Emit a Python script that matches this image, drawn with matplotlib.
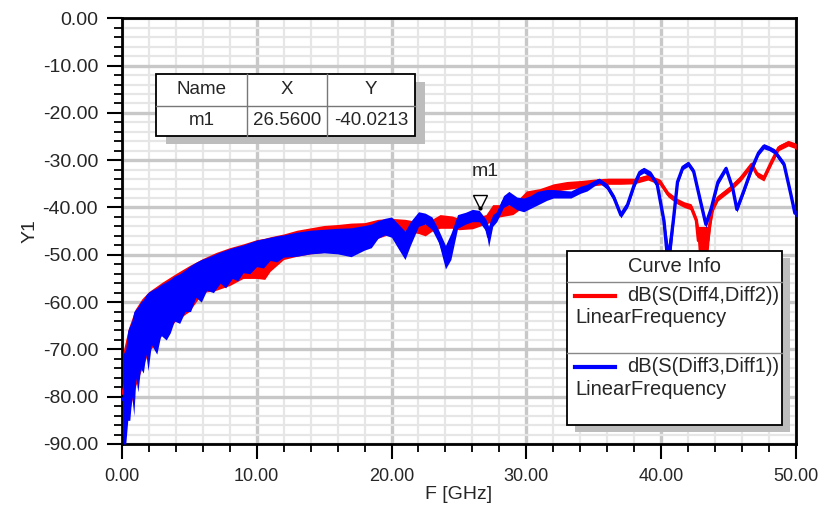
import numpy as np
import matplotlib
matplotlib.use("Agg")
import matplotlib.pyplot as plt
from matplotlib.ticker import MultipleLocator, FormatStrFormatter
from matplotlib.patches import Rectangle
from matplotlib.lines import Line2D
from matplotlib.transforms import offset_copy

plt.rcParams['font.family'] = ['Liberation Sans', 'DejaVu Sans']
plt.rcParams['axes.unicode_minus'] = False

# dB(S(Diff3,Diff1)) - frequency [GHz], lower / upper edge of the noisy trace [dB]
blue_f = [0.1, 0.3, 0.45, 0.6, 0.75, 0.9, 1.05, 1.2, 1.4, 1.6, 1.8, 1.95, 2.2, 2.6, 2.9,
          3.3, 3.6, 3.9, 4.3, 4.7, 5.1, 5.5, 5.9, 6.3, 6.8, 7.3, 7.7, 8.2, 8.6, 9.0,
          9.5, 10.0, 10.5, 11.0, 11.5, 12.0, 13.0, 14.0, 15.0, 16.0, 17.0, 18.0,
          18.5, 19.0, 19.5, 20.0, 20.5, 21.0, 21.4, 22.0, 22.5, 23.0, 23.5, 24.0,
          24.4, 24.9, 25.5, 26.0, 26.5, 27.0, 27.2, 27.5, 27.8, 28.3, 28.7, 29.3,
          29.8, 30.3, 30.8, 31.5, 32.0, 32.7, 33.3, 34.0, 34.5, 35.0, 35.4, 36.0,
          36.5, 37.0, 37.5, 38.0, 38.4, 38.7, 39.2, 39.7, 40.2, 40.5, 40.9, 41.2,
          41.6, 42.0, 42.4, 42.9, 43.3, 43.7, 44.2, 44.8, 45.3, 45.6, 46.1, 46.7,
          47.2, 47.6, 48.0, 48.4, 49.1, 49.6, 49.9, 50.0]
blue_lo = [-90, -90, -85, -85, -80, -84, -76, -79, -74, -75, -71, -74.5, -69, -71, -67,
           -68, -66.5, -64, -64.5, -62, -62, -59, -60, -57.5, -58, -56, -57, -55, -55.5, -53.8,
           -54, -52.5, -52.8, -51.2, -51.5, -50.5, -50.3, -49.8, -49.6, -49.8, -50.4, -49,
           -48.5, -46.5, -45.8, -46.3, -48.7, -51, -48, -44, -43.5, -44.7, -47.5, -53,
           -51, -44.4, -43.5, -43, -43, -45, -48.3, -44, -43, -40, -39.4, -40.5,
           -40.9, -40.2, -39.5, -38.5, -38, -38, -38, -37, -36.5, -35.5, -34.8, -36.2,
           -38.7, -42.2, -40, -35.8, -33.2, -32.7, -33.5, -35.8, -43.5, -56, -44, -35.2,
           -32, -31.3, -33, -39.3, -44.3, -40.8, -35.2, -32.3, -36.6, -41, -37.2, -32.4,
           -29, -27.6, -28, -28.7, -31.5, -37.8, -41.8, -42]
blue_hi = [-71, -70, -66, -65, -64, -62, -61.5, -61, -60, -59.5, -58.5, -58, -57.5, -57, -56.3,
           -55.7, -55.2, -54.5, -54, -53.2, -52.3, -51.6, -51, -50.6, -50, -49.4, -49, -48.5, -48.2, -47.9,
           -47.4, -46.9, -46.6, -46.3, -46, -45.8, -45.2, -44.8, -44.6, -44.4, -44.3, -43.8,
           -43.5, -42.8, -42.3, -42, -43.5, -45, -43, -40.9, -41.2, -42, -44.8, -48,
           -45.5, -41.5, -41, -40.4, -40.6, -42.5, -44, -41.5, -40.9, -37.5, -36.6, -37.8,
           -38, -37.5, -36.6, -36.2, -36.2, -36.4, -36.5, -35.5, -35.1, -34.3, -33.8, -35,
           -37.3, -41, -38.8, -34.5, -32, -31.5, -32.3, -34.6, -42.3, -48, -41, -34,
           -31, -30.2, -31.8, -38, -42.8, -39.6, -34, -31.2, -35.5, -39.8, -36, -31.2,
           -28, -26.5, -27, -27.6, -30.3, -36.6, -40.6, -40.5]

# dB(S(Diff4,Diff2))
red_f = [0.1, 0.5, 1.0, 1.5, 2.0, 3.0, 4.0, 5.0, 6.0, 7.0, 8.0, 9.0, 10.0, 10.6, 11.0,
         12.0, 13.0, 14.0, 15.0, 16.0, 17.0, 18.0, 19.0, 20.0, 21.0, 22.0, 22.5, 23.0,
         23.6, 24.5, 25.0, 26.0, 27.0, 27.5, 28.0, 29.0, 30.0, 31.0, 32.0, 33.0, 34.0,
         35.0, 36.0, 37.0, 38.0, 39.0, 39.9, 40.5, 41.2, 41.7, 42.2, 42.6, 42.75, 43.45,
         43.6, 43.8, 44.2, 45.1, 45.9, 46.7, 47.1, 47.6, 48.2, 48.7, 49.4, 49.9, 50.0]
red_lo = [-88, -84, -78, -74, -70.5, -67, -64, -62, -58, -57.5, -56.5, -55, -55, -55.2, -53.5,
          -51, -50.3, -49.8, -49.5, -49.5, -49.5, -48.8, -46.5, -45.5, -45, -45.5, -46, -45,
          -44.4, -44.4, -44.7, -44.5, -43.5, -43, -42, -41.5, -39.4, -38.7, -36.6, -36.2, -35.8,
          -35.4, -35.1, -35.1, -35, -34.2, -35.2, -37.8, -39.3, -40, -40.5, -43.5, -50, -50,
          -45, -41, -38.6, -36.6, -34.4, -31.5, -33.6, -34.4, -30.8, -28, -27, -27.5, -27.8]
red_hi = [-70.5, -65.5, -61.5, -59.3, -57.8, -55.8, -54, -52.3, -50.8, -49.5, -48.5, -47.7, -46.8, -46.5, -46.2,
          -45.6, -44.8, -44.3, -43.8, -43.6, -43.3, -43.2, -42.5, -42.3, -42.5, -43, -43.5, -42.5,
          -41.5, -41.8, -42.3, -42.3, -41.5, -39.4, -39.4, -39.4, -36.5, -36, -35, -34.5, -34.3,
          -34, -33.8, -33.8, -33.8, -33, -34, -36.6, -38.1, -38.8, -39.2, -42, -44, -44,
          -42, -39.6, -37.4, -35.4, -33.2, -30.3, -32.4, -33.2, -29.6, -26.8, -25.8, -26.3, -26.5]

m1_x = 26.56
m1_y = -40.0213

red = '#ff0000'
blue = '#0000ff'
txt = '#262626'

fig = plt.figure(figsize=(8.19, 5.07), dpi=100)
ax = fig.add_axes([0.1486, 0.1243, 0.8236, 0.8396])


def trace(f, lo, hi, color):
    lo = np.array(lo)
    hi = np.array(hi)
    ax.fill_between(f, lo, hi, color=color, lw=0, zorder=3)
    ax.plot(f, (lo + hi) / 2, color=color, lw=2.4, zorder=3)


trace(red_f, red_lo, red_hi, red)
trace(blue_f, blue_lo, blue_hi, blue)

# marker m1
tri = offset_copy(ax.transData, fig=fig, x=0, y=6, units='dots')
ax.plot([m1_x], [m1_y], marker='v', ms=10, mfc='white', mec='black', mew=1.0,
        transform=tri, zorder=6, ls='none')
ax.plot([m1_x], [m1_y], marker='o', ms=2, color='black', zorder=6)
ax.annotate('m1', (m1_x, m1_y), xytext=(4, 20), textcoords='offset points',
            ha='center', va='bottom', fontsize=14, color=txt, zorder=6)

ax.set_xlim(0, 50)
ax.set_ylim(-90, 0)
ax.xaxis.set_major_locator(MultipleLocator(10))
ax.xaxis.set_minor_locator(MultipleLocator(2))
ax.yaxis.set_major_locator(MultipleLocator(10))
ax.yaxis.set_minor_locator(MultipleLocator(2))
ax.xaxis.set_major_formatter(FormatStrFormatter('%.2f'))
ax.yaxis.set_major_formatter(FormatStrFormatter('%.2f'))

ax.set_axisbelow(True)
ax.grid(which='minor', color='#e6e6e6', lw=1.6)
ax.grid(which='major', color='#c8c8c8', lw=2.4)

for s in ax.spines.values():
    s.set_linewidth(2)
    s.set_color('black')

ax.tick_params(which='major', direction='out', length=11, width=1.5, labelsize=14,
               labelcolor=txt, pad=6)
ax.tick_params(axis='x', which='major', labelsize=13)
ax.tick_params(which='minor', direction='out', length=6, width=1.3)
ax.set_xlabel('F [GHz]', fontsize=14, color=txt, labelpad=1)
ax.set_ylabel('Y1', fontsize=14, color=txt, labelpad=3)

# marker table
T = ax.transAxes
tx0, tx1, ty0, ty1 = 0.0509, 0.4348, 0.7235, 0.869
ax.add_patch(Rectangle((tx0 + 0.015, ty0 - 0.019), tx1 - tx0, ty1 - ty0, transform=T,
                       facecolor='#bdbdbd', edgecolor='none', zorder=7))
ax.add_patch(Rectangle((tx0, ty0), tx1 - tx0, ty1 - ty0, transform=T,
                       facecolor='white', edgecolor='black', lw=1.3, zorder=8))
ax.add_line(Line2D([tx0, tx1], [0.794, 0.794], transform=T, color='#777777', lw=1, zorder=9))
for cx in (0.1858, 0.3044):
    ax.add_line(Line2D([cx, cx], [ty0, ty1], transform=T, color='#777777', lw=1, zorder=9))
cols = [0.118, 0.245, 0.370]
for x, s in zip(cols, ['Name', 'X', 'Y']):
    ax.text(x, 0.8316, s, transform=T, ha='center', va='center', fontsize=13.5, color=txt, zorder=10)
for x, s in zip(cols, ['m1', '%.4f' % m1_x, '%.4f' % m1_y]):
    ax.text(x, 0.7588, s, transform=T, ha='center', va='center', fontsize=13.5, color=txt, zorder=10)

# curve info box
lx0, lx1, ly0, ly1 = 0.660, 0.979, 0.0446, 0.453
ax.add_patch(Rectangle((lx0 + 0.012, ly0 - 0.017), lx1 - lx0, ly1 - ly0, transform=T,
                       facecolor='#bdbdbd', edgecolor='none', zorder=7))
ax.add_patch(Rectangle((lx0, ly0), lx1 - lx0, ly1 - ly0, transform=T,
                       facecolor='white', edgecolor='black', lw=1.3, zorder=8))
ax.text(0.820, 0.418, 'Curve Info', transform=T, ha='center', va='center',
        fontsize=14.5, color=txt, zorder=10)
for yy in (0.381, 0.214):
    ax.add_line(Line2D([lx0, lx1], [yy, yy], transform=T, color='#888888', lw=1, zorder=9))
entries = [('dB(S(Diff4,Diff2))', red, 0.348, 0.296),
           ('dB(S(Diff3,Diff1))', blue, 0.181, 0.129)]
for name, c, y1, y2 in entries:
    ax.add_line(Line2D([0.672, 0.731], [y1, y1], transform=T, color=c, lw=3, zorder=10))
    ax.text(0.750, y1, name, transform=T, ha='left', va='center', fontsize=14.5,
            color=txt, zorder=10)
    ax.text(0.672, y2, 'LinearFrequency', transform=T, ha='left', va='center',
            fontsize=14.5, color=txt, zorder=10)

fig.savefig('out.png', dpi=100, facecolor='white')
